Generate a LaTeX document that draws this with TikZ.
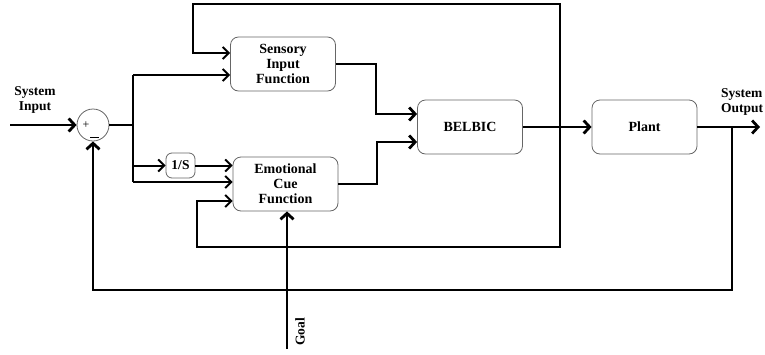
\documentclass[tikz,border=0pt]{standalone}
\usepackage{fontspec}
\setmainfont{Liberation Serif}
\usetikzlibrary{arrows.meta}
\begin{document}
\begin{tikzpicture}[x=1pt,y=-1pt,
  blk/.style={draw=black!60,line width=0.8pt,rounded corners=8pt,minimum width=105pt,minimum height=54pt,align=center,inner sep=0pt,font=\fontsize{14}{15}\selectfont\bfseries},
  lbl/.style={align=center,inner sep=0pt,font=\fontsize{13.5}{14.5}\selectfont\bfseries},
  sig/.style={line width=2pt,-{Straight Barb[length=6pt,width=12pt]}},
  sigb/.style={line width=2.8pt,-{Straight Barb[length=6pt,width=13pt]}},
  wire/.style={line width=2pt},
  wireb/.style={line width=2.8pt},
]
\useasboundingbox (0,0) rectangle (765,354);

% blocks
\node[blk] (sens) at (283,64) {Sensory\\Input\\Function};
\node[blk] (emo) at (285.5,184) {Emotional\\Cue\\Function};
\node[blk] (bel) at (470,127) {BELBIC};
\node[blk] (plant) at (644.5,127) {Plant};
\node[draw=black!60,line width=0.8pt,rounded corners=6pt,minimum width=29pt,minimum height=25pt,inner sep=0pt,font=\fontsize{13.5}{15}\selectfont\bfseries] (inv) at (180.5,165.5) {1/S};
\node[circle,draw=black!60,line width=0.8pt,minimum size=32pt,inner sep=0pt] (sum) at (93,125) {};
\node[inner sep=0pt,font=\fontsize{12}{12}\selectfont] (plus) at (86,125.5) {+};
\draw[line width=0.8pt] (90,137) -- (99,137);

% labels
\node[lbl] (sin) at (35,100) {System\\Input};
\node[lbl,align=left,anchor=west] (sout) at (721,102) {System\\Output};
\node[lbl,rotate=90] (goal) at (300,332) {Goal};

% coordinates
\coordinate (in) at (10,125);
\coordinate (J0) at (133,125);
\coordinate (J1) at (133,75);
\coordinate (J2) at (133,165.5);
\coordinate (J3) at (133,182);
\coordinate (T) at (560,127);
\coordinate (Ttop) at (560,4);
\coordinate (Tbot) at (560,247);
\coordinate (L1) at (193,4);
\coordinate (L2) at (193,53);
\coordinate (M1) at (197,247);
\coordinate (M2) at (197,201);
\coordinate (out) at (760,127);
\coordinate (F0) at (732,127);
\coordinate (F1) at (732,290);
\coordinate (F2) at (93,290);
\coordinate (G0) at (287,349);
\coordinate (S1) at (376,64);
\coordinate (E1) at (377,184);

% connectors
\draw[sigb] (in) -- (sum.west);
\draw[wireb] (sum.east) -- (J0);
\draw[wire] (J1) -- (J3);
\draw[sig] (J1) -- (J1 -| sens.west);
\draw[sig] (J2) -- (inv.west);
\draw[sig] (inv.east) -- (inv.east -| emo.west);
\draw[sig] (J3) -- (J3 -| emo.west);
\draw[sig] (T) -- (Ttop) -- (L1) -- (L2) -- (L2 -| sens.west);
\draw[sig] (T) -- (Tbot) -- (M1) -- (M2) -- (M2 -| emo.west);
\draw[sigb] (sens.east) -- (S1) |- ([yshift=13pt]bel.west);
\draw[sigb] (emo.east) -- (E1) |- ([yshift=-15pt]bel.west);
\draw[sigb] (bel.east) -- (bel.east -| plant.west);
\draw[sigb] (plant.east) -- (out);
\draw[sigb] (F0) -- (F1) -- (F2) -- (sum.south);
\draw[sigb] (G0) -- (G0 |- emo.south);
\end{tikzpicture}
\end{document}
